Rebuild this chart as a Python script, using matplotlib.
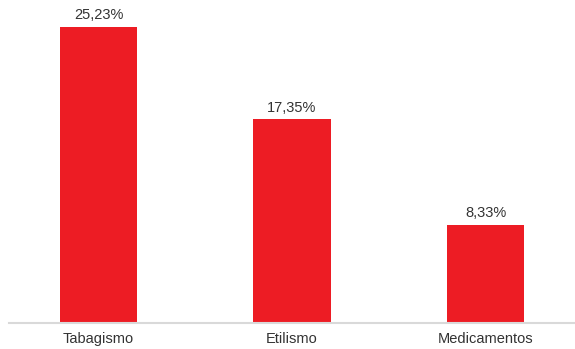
import matplotlib
matplotlib.use('Agg')
import matplotlib.pyplot as plt

# Data
categories = ['Tabagismo', 'Etilismo', 'Medicamentos']
values = [25.23, 17.35, 8.33]
value_labels = ['25,23%', '17,35%', '8,33%']

plt.rcParams['font.family'] = ['Liberation Sans', 'DejaVu Sans']

fig = plt.figure(figsize=(5.75, 3.49), dpi=100)
ax = fig.add_axes([9 / 575, 26.5 / 349, 566 / 575, 322.5 / 349])

x = range(len(categories))
ax.bar(x, values, width=0.398, color='#ED1C24', zorder=2)

for i, (v, lab) in enumerate(zip(values, value_labels)):
    ax.text(i, v + 0.4, lab, ha='center', va='bottom', fontsize=10.5, color='#333333')

ax.set_xlim(-0.4625, 2.4625)
ax.set_ylim(0, 27.54)
ax.set_xticks(list(x))
ax.set_xticklabels(categories, fontsize=10.5, color='#333333')
ax.tick_params(axis='x', length=0, pad=7)
ax.set_yticks([])

for s in ['top', 'right', 'left']:
    ax.spines[s].set_visible(False)
ax.spines['bottom'].set_color('#d9d9d9')
ax.spines['bottom'].set_linewidth(1.5)

fig.savefig('out.png', dpi=100)
